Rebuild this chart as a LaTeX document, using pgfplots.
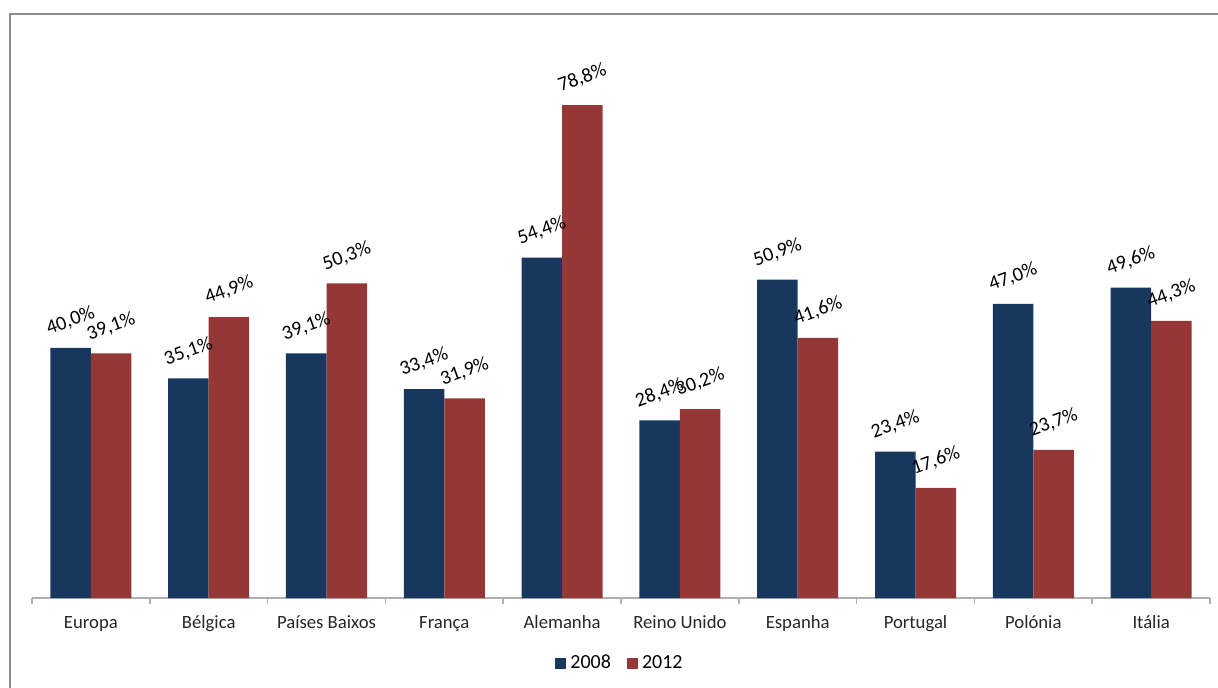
\documentclass[border=0pt]{standalone}
\usepackage{pgfplots}
\pgfplotsset{compat=1.18}
\usepackage{fontspec}
\setmainfont{Carlito}
\definecolor{c2008}{RGB}{23,55,94}
\definecolor{c2012}{RGB}{149,55,53}
\definecolor{framegray}{RGB}{140,140,140}
\definecolor{axgray}{RGB}{175,175,175}
\begin{document}
\begin{tikzpicture}
\useasboundingbox (-16pt,-44.5pt) rectangle (593pt,299pt);
\draw[framegray, line width=1pt] (-11pt,-50pt) -- (-11pt,292pt) -- (600pt,292pt);
\begin{axis}[
 at={(0pt,0pt)}, anchor=south west,
 scale only axis, width=589pt, height=281.5pt,
 xmin=-0.5, xmax=9.5, ymin=0, ymax=90,
 clip=false,
 axis y line=none, axis x line*=bottom,
 x axis line style={axgray, line width=0.75pt, -},
 xtick={0,...,9},
 xticklabels={Europa,Bélgica,Países Baixos,França,Alemanha,Reino Unido,Espanha,Portugal,Polónia,Itália},
 minor xtick={-0.5,0.5,...,9.5},
 major tick length=0pt, minor tick length=3pt, tick align=outside,
 tick style={axgray, line width=0.75pt},
 xticklabel style={font=\fontsize{9.35pt}{11pt}\selectfont, text=black!85, anchor=base, yshift=-15.25pt},
 ybar, bar width=0.344,
 nodes near coords={\pgfmathprintnumber[fixed,fixed zerofill,precision=1,use comma]{\pgfplotspointmeta}\%},
 nodes near coords style={font=\fontsize{10pt}{12pt}\selectfont, text=black, anchor=center, yshift=13.5pt, rotate=20},
 /pgf/number format/assume math mode=true,
 legend style={at={(0.5,-0.1155)}, anchor=center, draw=none, legend columns=2,
   font=\fontsize{10pt}{12pt}\selectfont,
   /tikz/every even column/.append style={column sep=6pt}},
 legend image code/.code={\fill[#1] (0pt,-2.75pt) rectangle (5.5pt,2.75pt);},
]
\addplot[fill=c2008, draw=none, bar shift=-0.172] coordinates {
 (0,40.0) (1,35.1) (2,39.1) (3,33.4) (4,54.4) (5,28.4) (6,50.9) (7,23.4) (8,47.0) (9,49.6)};
\addplot[fill=c2012, draw=none, bar shift=0.172] coordinates {
 (0,39.1) (1,44.9) (2,50.3) (3,31.9) (4,78.8) (5,30.2) (6,41.6) (7,17.6) (8,23.7) (9,44.3)};
\legend{2008,2012}
\end{axis}
\end{tikzpicture}
\end{document}
